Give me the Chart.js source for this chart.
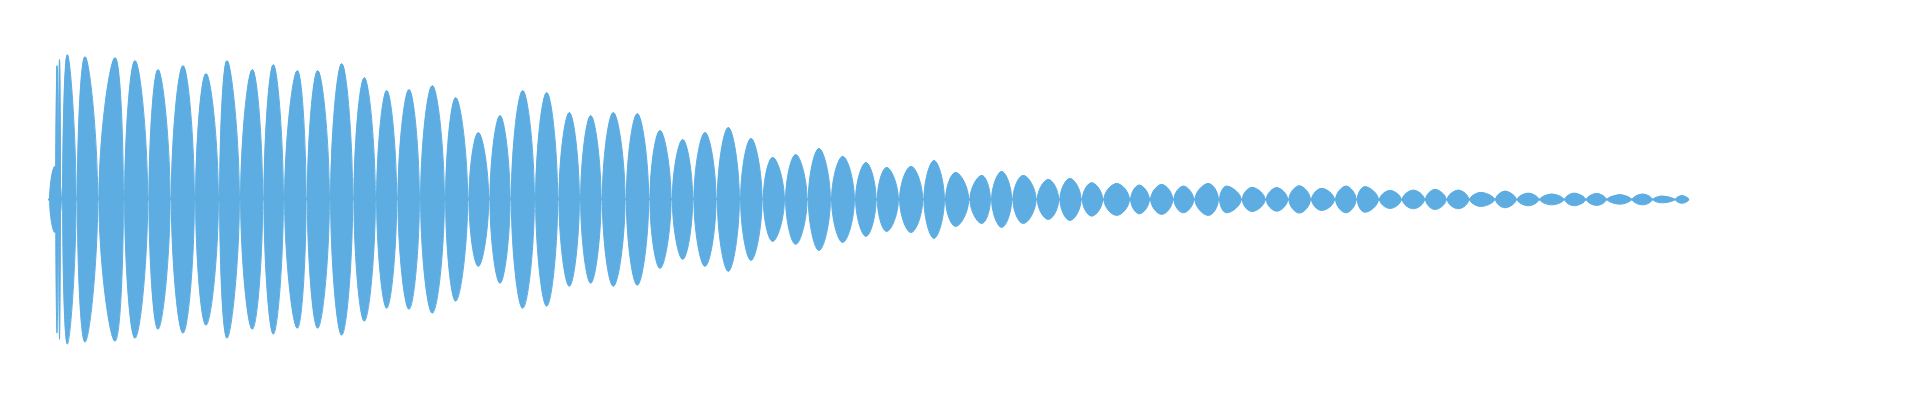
<!DOCTYPE html>
<html>
<head>
<meta charset="utf-8">
<script src="https://cdn.jsdelivr.net/npm/chart.js@4/dist/chart.umd.min.js"></script>
<style>
  html, body { margin: 0; padding: 0; background: #ffffff; }
  #wrap { width: 1920px; height: 400px; position: relative; }
</style>
</head>
<body>
<div id="wrap"><canvas id="c"></canvas></div>
<script>
// Time (ms) at which each envelope lobe begins; the last entry is the end of the waveform
const lobeNodes = [1, 14, 28.7, 50.3, 76, 100.3, 122.7, 147, 171, 192, 215.3, 236, 258.7, 282, 305.3, 328, 349.3, 372, 397, 420.3,
  441.3, 462.7, 487, 510.3, 532, 553.7, 577.7, 601.3, 623.7, 645.3, 668.7, 692, 714.7, 737, 759.7, 783, 807, 828.7, 851, 875.3,
  897, 921.3, 943, 964.3, 988.7, 1011.3, 1033.7, 1055.3, 1082, 1102, 1125.3, 1146.3, 1171, 1193.7, 1217.7, 1240.3, 1263, 1287, 1308.7, 1331,
  1353.7, 1377, 1398.7, 1421.3, 1447, 1468.7, 1491.3, 1516.3, 1538, 1558.7, 1583.7, 1604.7, 1627, 1641.3];
// Time (ms) of each lobe's peak
const lobePeaks = [7, 19.3, 37, 67, 87, 110, 135, 158, 179, 204.3, 225.3, 249.3, 269.7, 293.7, 316.3, 338.7, 361, 384.3, 407.7, 430.3,
  452, 474.7, 498.7, 521.3, 542.7, 565.3, 589.3, 612, 634.7, 657, 680.3, 703, 724.7, 747.7, 771, 794.7, 818, 838.7, 863, 886,
  907.7, 933.7, 953.7, 975.3, 1000.3, 1022, 1043.7, 1068.7, 1091.3, 1113.7, 1135.3, 1160.3, 1178.7, 1204, 1228.7, 1251.3, 1273.7, 1298, 1317, 1342,
  1365.3, 1387, 1410.3, 1432.7, 1457, 1480.3, 1503.7, 1526, 1548.7, 1572, 1594.7, 1613.7, 1633.7];
// Peak amplitude of each lobe (% of full scale)
const lobeAmps = [22.8, 100, 98.6, 97.9, 95.9, 89.7, 92.4, 86.9, 95.9, 89.7, 93.1, 89, 89, 93.8, 84.1, 75.2, 75.9, 78.6, 70.3, 46.2,
  57.9, 75.2, 73.8, 60, 57.9, 60, 59.3, 47.6, 41.4, 46.2, 49.7, 42.1, 29, 31, 35.2, 29.7, 25.5, 22.1, 22.8, 26.9,
  18.6, 16.6, 19.3, 16.6, 13.8, 14.5, 11.5, 11, 9.9, 10.3, 9.2, 11, 9.2, 8.3, 8.1, 9.4, 7.6, 9.2, 8.8, 6.2,
  6.4, 6.9, 6.4, 4.8, 5.7, 4.3, 3.7, 4.3, 4.1, 3.2, 3.7, 2.3, 2.6];
// Onset transient spikes: start, peak, end (ms) and amplitude (%)
const spikeStarts = [7.7, 10.7];
const spikePeaks = [9, 11.5];
const spikeEnds = [10.3, 12.5];
const spikeAmps = [92.4, 96.6];

// style constants
const color = '#5DADE2';
const neck = 0.6;      // half width of the thin neck between lobes

// Closed outline of one lobe (both polarities), traced so the spline gets
// steep tangents at the lobe ends and flat tangents at the peaks.
function lobeOutline(out, x0, xp, x1, a) {
  const l = x0 + neck, r = x1 - neck;
  out.push({ x: l, y: 0 }, { x: xp, y: a }, { x: r, y: 0 }, { x: xp, y: -a },
           { x: l, y: 0 }, { x: xp, y: a }, { x: r, y: 0 }, { x: r, y: null });
}
function lobeSeries() {
  const out = [];
  for (let i = 0; i < lobePeaks.length; i++) lobeOutline(out, lobeNodes[i], lobePeaks[i], lobeNodes[i + 1], lobeAmps[i]);
  return out;
}
function spikeSeries() {
  const out = [];
  for (let i = 0; i < spikePeaks.length; i++) lobeOutline(out, spikeStarts[i] - neck, spikePeaks[i], spikeEnds[i] + neck, spikeAmps[i]);
  return out;
}

const common = {
  borderColor: color,
  backgroundColor: color,
  borderWidth: 1,
  pointRadius: 0,
  pointHoverRadius: 0,
  tension: 0.44,
  fill: 'shape',
  spanGaps: false
};

new Chart(document.getElementById('c'), {
  type: 'line',
  data: {
    datasets: [
      Object.assign({ label: 'waveform', data: lobeSeries() }, common),
      Object.assign({ label: 'onset', data: spikeSeries() }, common),
      { label: 'baseline', data: [{ x: 0, y: 0 }, { x: lobeNodes[lobeNodes.length - 1], y: 0 }],
        borderColor: color, borderWidth: 2, pointRadius: 0, fill: false, tension: 0 }
    ]
  },
  options: {
    responsive: true,
    maintainAspectRatio: false,
    animation: false,
    layout: { padding: { left: 48, right: 230.7, top: 0, bottom: 1 } },
    plugins: { legend: { display: false }, tooltip: { enabled: false } },
    scales: {
      x: { type: 'linear', display: false, min: 0, max: 1641.3 },
      y: { display: false, min: -137.9, max: 137.9 }
    }
  }
});
</script>
</body>
</html>
